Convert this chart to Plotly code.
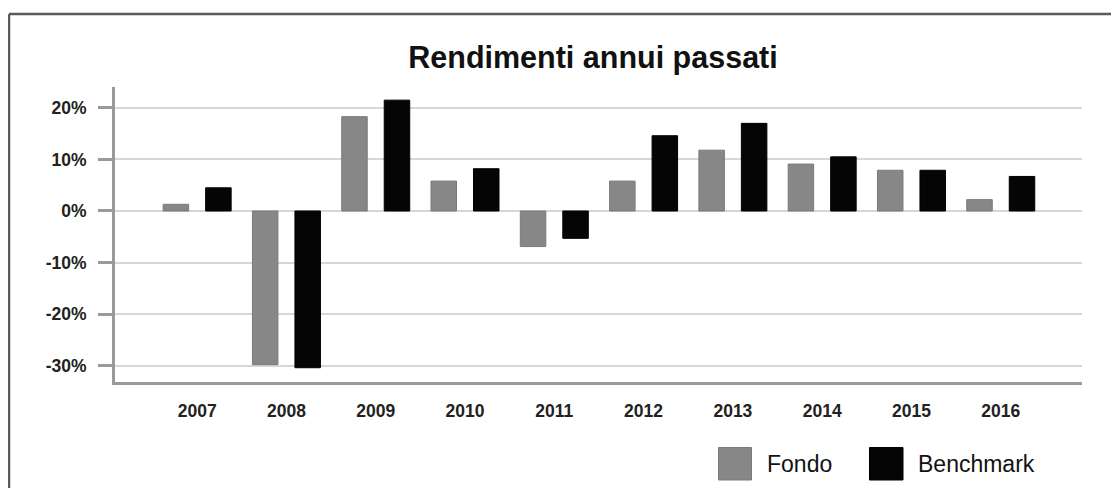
import plotly.graph_objects as go

years = ["2007", "2008", "2009", "2010", "2011", "2012", "2013", "2014", "2015", "2016"]
fondo = [1.3, -29.8, 18.3, 5.8, -6.9, 5.8, 11.8, 9.1, 7.9, 2.2]
benchmark = [4.5, -30.4, 21.5, 8.2, -5.3, 14.6, 17.0, 10.5, 7.9, 6.7]
y_ticks = [20, 10, 0, -10, -20, -30]
y_tick_labels = ["20%", "10%", "0%", "-10%", "-20%", "-30%"]

FONT = "Liberation Sans, Arial, Helvetica, sans-serif"
OFF = 8  # page body margin offset
W, H = 1119 - OFF, 488 - OFF
L, T = 115 - OFF, 87 - OFF
R = W - (1082 - OFF)
B = H - (382 - OFF)
PW, PH = W - L - R, H - T - B


def px(x_page):
    return (x_page - OFF - L) / PW


def py(y_page):
    return (H - B - (y_page - OFF)) / PH


fig = go.Figure()
fig.add_trace(go.Bar(x=years, y=fondo, name="Fondo",
                     marker=dict(color="#878787", line=dict(color="#7a7a7a", width=1)),
                     showlegend=False))
fig.add_trace(go.Bar(x=years, y=benchmark, name="Benchmark",
                     marker=dict(color="#050505", line=dict(color="#000000", width=1)),
                     showlegend=False))

shapes = [
    # outer frame (left and top edges visible)
    dict(type="line", xref="paper", yref="paper", x0=px(9), x1=px(1130),
         y0=py(14), y1=py(14), line=dict(color="#5a5a5a", width=2.5)),
    dict(type="line", xref="paper", yref="paper", x0=px(9), x1=px(9),
         y0=py(14), y1=py(495), line=dict(color="#5a5a5a", width=2.5)),
    # legend swatches
    dict(type="rect", xref="paper", yref="paper", x0=px(718.5), x1=px(751.5),
         y0=py(480), y1=py(447.5), fillcolor="#878787", line=dict(color="#7a7a7a", width=1)),
    dict(type="rect", xref="paper", yref="paper", x0=px(869.5), x1=px(903),
         y0=py(480), y1=py(447.5), fillcolor="#050505", line=dict(color="#000000", width=1)),
]

annotations = [
    dict(text="Fondo", xref="paper", yref="paper", x=px(765), y=py(463.5),
         xanchor="left", yanchor="middle", showarrow=False,
         font=dict(family=FONT, size=23, color="#111111")),
    dict(text="Benchmark", xref="paper", yref="paper", x=px(916), y=py(463.5),
         xanchor="left", yanchor="middle", showarrow=False,
         font=dict(family=FONT, size=23, color="#111111")),
]

fig.update_layout(
    width=W, height=H,
    margin=dict(l=L, r=R, t=T, b=B),
    paper_bgcolor="white", plot_bgcolor="white",
    barmode="group", bargap=0.048, bargroupgap=0.4,
    title=dict(text="<b>Rendimenti annui passati</b>", x=(593 - OFF) / W, xref="container",
               xanchor="center", y=1 - (57 - OFF) / H, yref="container", yanchor="middle",
               font=dict(family=FONT, size=30.5, color="#111111")),
    shapes=shapes, annotations=annotations,
    xaxis=dict(type="category", range=[-0.92, 9.91], showgrid=False, zeroline=False,
               showline=True, linecolor="#9a9a9a", linewidth=3, ticks="",
               ticklabelstandoff=11,
               tickfont=dict(family=FONT, size=17.5, color="#222222", weight="bold")),
    yaxis=dict(range=[-33.17, 24.05], tickvals=y_ticks, ticktext=y_tick_labels,
               showgrid=True, gridcolor="#d6d6d6", gridwidth=1.5, zeroline=False,
               showline=True, linecolor="#9a9a9a", linewidth=3,
               ticks="outside", ticklen=14, tickwidth=3, tickcolor="#9a9a9a",
               ticklabelstandoff=8,
               tickfont=dict(family=FONT, size=17.5, color="#222222", weight="bold")),
)

fig.write_html("out.html")
